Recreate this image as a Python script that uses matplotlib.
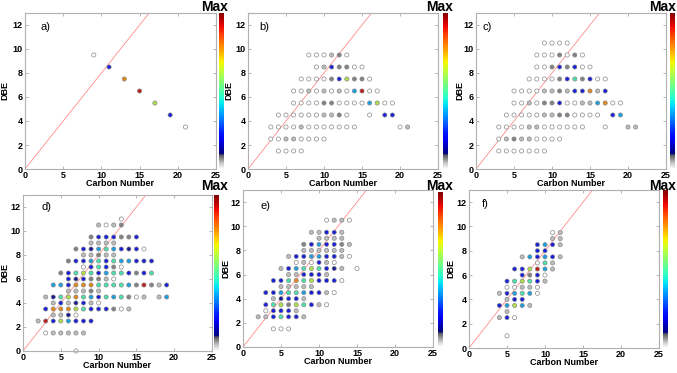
import numpy as np
import matplotlib
matplotlib.use('Agg')
import matplotlib.pyplot as plt
from matplotlib.colors import LinearSegmentedColormap
from matplotlib.patches import Rectangle

plt.rcParams['font.family'] = ['Liberation Sans', 'DejaVu Sans']

# rows of points: (DBE, first carbon number, intensity level per consecutive carbon; None = gap)
a_rows = [(9.5, 9, [0]), (8.5, 11, [4]), (7.5, 13, [8]), (6.5, 15, [9]),
          (5.5, 17, [7]), (4.5, 19, [4]), (3.5, 21, [0])]

b_rows = [(9.5, 8, [0, 0, 0, 1, 2, 0]),
          (8.5, 9, [0, 1, 4, 2, 2, 0, 0]),
          (7.5, 7, [0, 0, 0, 0, 2, 4, 7, 2, 2, 0]),
          (6.5, 6, [0, 0, 1, 0, 1, 0, 1, 0, 5, 9, 0, 0]),
          (5.5, 6, [0, 0, 0, 0, 2, 2, 0, 0, 0, 0, 5, 7, 0, 0]),
          (4.5, 4, [0, 0, 0, 0, 0, 0, 1, 1, 2, 0, None, None, 0, None, 4, 4]),
          (3.5, 3, [0, 0, 0, 0, 1, 0, 0, 0, 0, 0, 0, 0, None, None, None, None, None, 0, 1]),
          (2.5, 3, [0, 0, 1, 1, 0, 0, 0, 0]),
          (1.5, 4, [0, 0, 0, 0])]

c_rows = [(10.5, 9, [0, 0, 0, 0]),
          (9.5, 8, [0, 0, 0, 2, 0, 2, 0]),
          (8.5, 8, [0, 0, 2, 4, 2, 4, 0, 0]),
          (7.5, 7, [0, 0, 0, 0, 2, 4, 6, 2, 4, 0, 0]),
          (6.5, 5, [0, 0, 0, 0, 1, 1, 2, 1, 4, 4, 8, 1, 4]),
          (5.5, 5, [0, 0, 1, 0, 2, 2, 4, 0, 0, 1, 1, 5, 8, 0, 0]),
          (4.5, 4, [0, 0, 0, 0, 0, 1, 1, 2, 2, 0, 0, 0, 0, None, 4, 5]),
          (3.5, 3, [0, 0, 0, 0, 1, 1, 0, 0, 0, 0, 0, 0, None, None, 0, None, None, 1, 1]),
          (2.5, 3, [0, 1, 2, 1, 1, 0, 0, 0, 0]),
          (1.5, 3, [0, 0, 0, 0, 0, 0, 0])]

d_rows = [(11, 13, [0]),
          (10.5, 10, [1, 0, 1, 2]),
          (9.5, 9, [2, 4, 4, 4, 2, 2, 4]),
          (9, 9, [1, 1, 1, 1]),
          (8.5, 7, [2, 4, 3, 5, 6, 5, 4, 3, 4, 0]),
          (8, 8, [1, 1, 2, 1, 1]),
          (7.5, 6, [2, 4, 4, 5, 6, 4, 6, 5, 5, 4, 4, 4]),
          (7, 8, [0, 4, 6, 4, 2, 0]),
          (6.5, 5, [2, 4, 6, 7, 6, 4, 5, 6, 6, 4, 2, 4, 6]),
          (6, 6, [4, 3, 4, 2, 2, 1, 0]),
          (5.5, 4, [5, 5, 4, 8, 8, 8, 6, 6, 6, 6, 5, 2, 9, 2, 1, 4]),
          (5, 6, [1, 1, 1, 2, 1]),
          (4.5, 3, [1, 3, 6, 7, 8, 6, 5, 4, 6, 5, 6, 2, 0, 1, None, 1, 5]),
          (4, 4, [1, 4, 1, 3, 4, 1, 0]),
          (3.5, 3, [4, 8, 8, 8, 7, 6, 4, 4, 4, 2, 0, 1]),
          (3, 4, [1, 1, 3, 0]),
          (2.5, 2, [1, 9, 4, 7, 5, 4, 4, 4]),
          (1.5, 3, [0, 1, 1, 1, 1, 1]),
          (0, 7, [0])]

e_rows = [(10.5, 11, [0, 1, 1, 0]),
          (9.5, 9, [1, 1, 4, 4, 1]),
          (9, 10, [1, 1, 1, 1]),
          (8.5, 8, [2, 4, 5, 4, 4, 2, 1]),
          (8, 8, [1, 1, 1, 1, 1, 1]),
          (7.5, 6, [1, 4, 4, 5, 5, 4, 4, 1, 0]),
          (7, 7, [0, 1, 0, 4, 1, 0]),
          (6.5, 5, [1, 4, 5, 6, 7, 6, 4, 3, 1, None, 0]),
          (6, 6, [1, 1, 4, 4, 4, 1]),
          (5.5, 4, [4, 4, 6, 8, 6, 7, 4, 4, 4, 0]),
          (5, 5, [1, 1, 1, 1, 1]),
          (4.5, 3, [4, 4, 5, 6, 6, 5, 4, 4, 1, 0]),
          (4, 4, [1, 3, 4, 4, 1]),
          (3.5, 3, [4, 6, 7, 2, 7, 6, 4, 1, 0]),
          (3, 3, [0, 4, 4, 4, 1]),
          (2.5, 2, [1, 1, 4, 6, 4, 4, 1]),
          (1.5, 4, [0, 0, 0])]

f_rows = [(9.5, 11, [0, 1]),
          (9, 11, [1, 1]),
          (8.5, 9, [4, 5, 4, 1]),
          (8, 9, [4, 4]),
          (7.5, 7, [1, 5, 4, 5, 4, 1]),
          (7, 9, [0, 6, 1]),
          (6.5, 6, [4, 4, 7, 9, 5, 1]),
          (6, 7, [4, 2, 4, 0]),
          (5.5, 5, [4, 6, 7, 6, 4, 1]),
          (5, 5, [0, 0, 1, 1, 0]),
          (4.5, 4, [1, 4, 5, 6, 5, 0]),
          (4, 5, [1, 4, 4]),
          (3.5, 4, [4, 5, 7, 5, 1]),
          (3, 5, [1]),
          (2.5, 4, [1, 4, 0]),
          (1, 5, [0])]

panel_labels = ['a)', 'b)', 'c)', 'd)', 'e)', 'f)']
# colour value used for each intensity level (0 = white ... 9 = dark red)
level_values = [0.0, 0.035, 0.07, 0.12, 0.2, 0.36, 0.48, 0.62, 0.78, 0.93]
x_ticks = [0, 5, 10, 15, 20, 25]
y_ticks = [0, 2, 4, 6, 8, 10, 12]
line_slope = 0.8

# jet colormap with a white-grey foot
jet = plt.get_cmap('jet')
stops = [(0.0, '#ffffff'), (0.035, '#c8c8c8'), (0.065, '#8a8a8a'), (0.09, '#50505e')]
for p in np.linspace(0.0, 1.0, 21):
    stops.append((0.095 + 0.905 * p, jet(p)))
cmap = LinearSegmentedColormap.from_list('jetgray', stops)

W, H = 677, 373
fig = plt.figure(figsize=(W / 100, H / 100), dpi=100)


def box(l, t, r, b):
    return [l / W, 1 - b / H, (r - l) / W, (b - t) / H]


ax_boxes = [(25, 13, 216, 169), (248, 13, 438, 169), (476, 13, 666, 169),
            (23, 195, 212, 351), (243, 190, 433, 347), (469, 190, 659, 348)]
cb_boxes = [(219, 13, 224, 169), (443, 13, 448, 169), (670, 13, 675, 169),
            (214, 195, 219, 351), (438, 192, 443, 347), (663, 190, 668, 348)]
max_pos = [(215, 11), (440, 11), (663, 11), (215, 190), (440, 190), (663, 190)]
label_pos = [(0.08, 0.91), (0.06, 0.91), (0.035, 0.91), (0.1, 0.92), (0.09, 0.9), (0.07, 0.91)]
ylab_x = [-0.084, -0.079, -0.063, -0.074, -0.068, -0.074]

all_rows = [a_rows, b_rows, c_rows, d_rows, e_rows, f_rows]

# white cover hiding the lower part of the top-row x labels
fig.patches.append(Rectangle((0, 0), 1, 1 - 187 / H, transform=fig.transFigure,
                             facecolor='white', edgecolor='none', zorder=0.5))

for i, rows in enumerate(all_rows):
    z = 0 if i < 3 else 1
    ax = fig.add_axes(box(*ax_boxes[i]), zorder=z)
    cs, ds, vs = [], [], []
    for dbe, c0, levels in rows:
        for k, lev in enumerate(levels):
            if lev is None:
                continue
            cs.append(c0 + k)
            ds.append(dbe)
            vs.append(level_values[lev])
    # slightly muted fill colours, as in the printed figure
    rgb = cmap(np.array(vs))[:, :3]
    rgb = 0.8 * rgb + 0.2 * 0.45
    rgb[np.array(vs) == 0] = 1.0
    xs = np.array([0, 25])
    ax.plot(xs, line_slope * xs, color='#ff8c8c', lw=0.6, zorder=1)
    ax.scatter(cs, ds, c=rgb, s=9,
               edgecolors='#8a8a8a', linewidths=0.5, zorder=2, clip_on=False)
    ax.set_xlim(0, 25)
    ax.set_ylim(0, 13)
    ax.set_xticks(x_ticks)
    ax.set_yticks(y_ticks)
    ax.tick_params(direction='in', length=2, width=0.5, color='#999999',
                   labelsize=6.5, pad=1.5, top=True, right=True)
    for lab in ax.get_xticklabels() + ax.get_yticklabels():
        lab.set_fontweight('bold')
    for sp in ax.spines.values():
        sp.set_color('#b0b0b0')
        sp.set_linewidth(0.8)
    ax.set_xlabel('Carbon Number', fontsize=6.5, fontweight='bold')
    ax.xaxis.set_label_coords(0.5, -0.065)
    ax.set_ylabel('DBE', fontsize=6.5, fontweight='bold')
    ax.yaxis.set_label_coords(ylab_x[i], 0.5)
    ax.text(label_pos[i][0], label_pos[i][1], panel_labels[i], transform=ax.transAxes,
            fontsize=8, va='center', ha='left')

    cax = fig.add_axes(box(*cb_boxes[i]), zorder=z)
    grad = np.linspace(0, 1, 256).reshape(-1, 1)
    cax.imshow(grad, cmap=cmap, aspect='auto', origin='lower')
    cax.set_xticks([])
    cax.set_yticks([])
    for sp in cax.spines.values():
        sp.set_visible(False)

    fig.text(max_pos[i][0] / W, 1 - max_pos[i][1] / H, 'Max', fontsize=10,
             fontweight='bold', ha='center', va='baseline', zorder=3)

fig.savefig('out.png', dpi=100)
